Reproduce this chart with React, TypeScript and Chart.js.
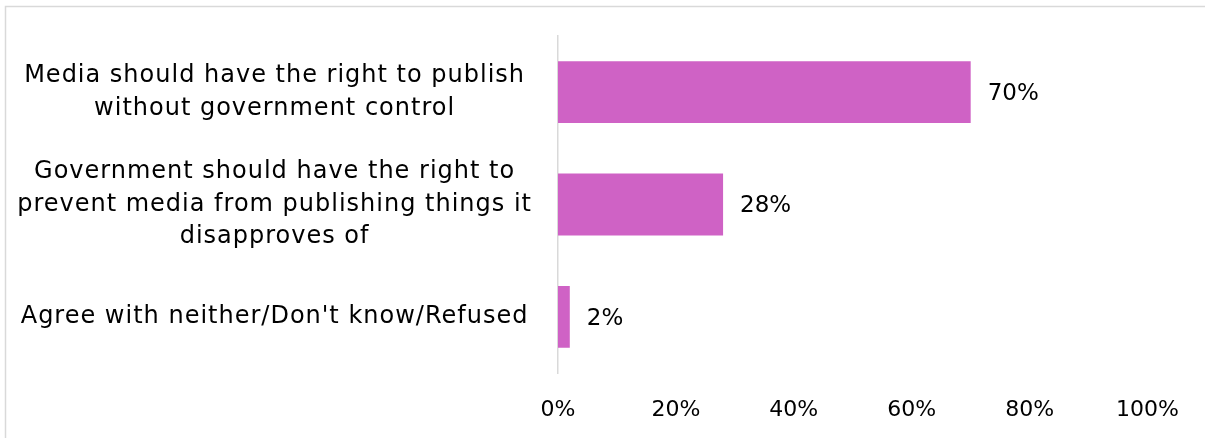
import React, { useEffect, useRef } from "react";
import { Chart, registerables } from "chart.js";

Chart.register(...registerables);

const categories: (string | string[])[] = [
  ["Media should have the right to publish", "without government control"],
  ["Government should have the right to", "prevent media from publishing things it", "disapproves of"],
  "Agree with neither/Don't know/Refused",
];
const values: number[] = [70, 28, 2];
const valueLabels: string[] = ["70%", "28%", "2%"];
const xTicks: number[] = [0, 20, 40, 60, 80, 100];

const FONT = "'DejaVu Sans', sans-serif";
const BAR_COLOR = "#CF62C5";
const LINE_COLOR = "#D9D9D9";
const CAT_SPACING = "1px";

const spacingPlugin = {
  id: "spacing",
  beforeUpdate(chart: any) {
    chart.ctx.letterSpacing = CAT_SPACING;
  },
  beforeDraw(chart: any) {
    chart.ctx.letterSpacing = CAT_SPACING;
  },
};

const framePlugin = {
  id: "frame",
  beforeDraw(chart: any) {
    const ctx = chart.ctx;
    ctx.save();
    ctx.strokeStyle = LINE_COLOR;
    ctx.lineWidth = 1.5;
    ctx.strokeRect(5.5, 6.5, 1400, 600);
    ctx.restore();
  },
};

const valueLabelPlugin = {
  id: "valueLabels",
  afterDatasetsDraw(chart: any) {
    const ctx = chart.ctx;
    const meta = chart.getDatasetMeta(0);
    ctx.save();
    ctx.letterSpacing = "0px";
    ctx.font = `23px ${FONT}`;
    ctx.fillStyle = "#000000";
    ctx.textAlign = "left";
    ctx.textBaseline = "middle";
    meta.data.forEach((bar: any, i: number) => {
      ctx.fillText(valueLabels[i], bar.x + 17, bar.y + 2);
    });
    ctx.restore();
  },
};

export default function App() {
  const canvasRef = useRef<HTMLCanvasElement | null>(null);

  useEffect(() => {
    document.body.style.margin = "0";
    const canvas = canvasRef.current;
    if (!canvas) return;
    const chart = new Chart(canvas, {
      type: "bar",
      data: {
        labels: categories,
        datasets: [
          {
            data: values,
            backgroundColor: BAR_COLOR,
            borderWidth: 0,
            barPercentage: 0.55,
            categoryPercentage: 1,
          },
        ],
      },
      options: {
        indexAxis: "y",
        responsive: false,
        animation: false,
        devicePixelRatio: 1,
        layout: { padding: { top: 36, right: 50, left: 0, bottom: 0 } },
        plugins: {
          legend: { display: false },
          tooltip: { enabled: false },
        },
        scales: {
          x: {
            min: 0,
            max: 100,
            afterBuildTicks: (scale: any) => {
              scale.ticks = xTicks.map((v) => ({ value: v }));
            },
            afterFit: (scale: any) => {
              scale.height = 65;
            },
            afterUpdate: (scale: any) => {
              if (!scale.__wrapped) {
                const orig = scale.drawLabels.bind(scale);
                scale.drawLabels = (area: any) => {
                  const ctx = scale.ctx;
                  const prev = ctx.letterSpacing;
                  ctx.letterSpacing = "0px";
                  orig(area);
                  ctx.letterSpacing = prev;
                };
                scale.__wrapped = true;
              }
            },
            grid: { display: false, drawTicks: false },
            border: { display: false },
            ticks: {
              padding: 24,
              color: "#000000",
              font: { family: FONT, size: 22 },
              callback: (v: any) => `${v}%`,
              maxRotation: 0,
            },
          },
          y: {
            afterFit: (scale: any) => {
              scale.width = 558;
              scale.paddingTop = 0;
              scale.paddingBottom = 0;
            },
            grid: { display: false, drawTicks: false },
            border: { display: true, color: LINE_COLOR, width: 1.5 },
            ticks: {
              padding: 26,
              crossAlign: "center",
              color: "#000000",
              font: { family: FONT, size: 24, lineHeight: 1.36 },
            },
          },
        },
      },
      plugins: [spacingPlugin, framePlugin, valueLabelPlugin],
    });
    return () => chart.destroy();
  }, []);

  return (
    <div style={{ width: 1205, height: 438 }}>
      <canvas ref={canvasRef} width={1205} height={438} />
    </div>
  );
}
